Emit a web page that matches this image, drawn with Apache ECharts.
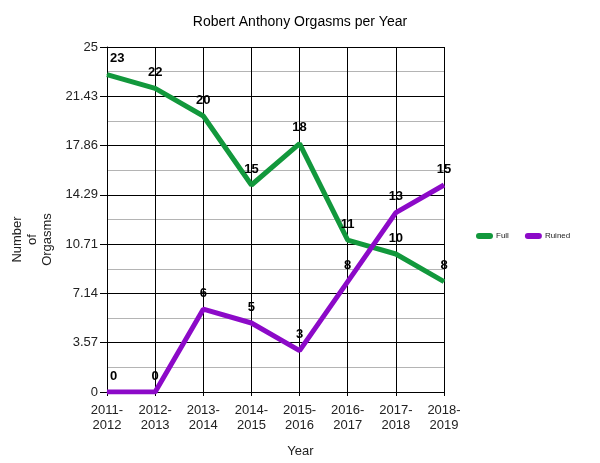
<!DOCTYPE html>
<html><head><meta charset="utf-8">
<script src="https://cdn.jsdelivr.net/npm/echarts@6/dist/echarts.min.js"></script>
<style>html,body{margin:0;padding:0;background:#fff}#c{width:600px;height:463px}</style>
</head><body><div id="c"></div>
<script>
const categories = ['2011-\n2012','2012-\n2013','2013-\n2014','2014-\n2015','2015-\n2016','2016-\n2017','2017-\n2018','2018-\n2019'];
const fullValues = [23, 22, 20, 15, 18, 11, 10, 8];
const ruinedValues = [0, 0, 6, 5, 3, 8, 13, 15];
const yMin = 0, yMax = 25, yStep = 25 / 7;

const FONT = 'Liberation Sans, Arial, sans-serif';
const green = '#12983c', purple = '#8c0ac8';

function withFirstLabel(vals) {
  return vals.map((v, i) => i === 0 ? {value: v, label: {align: 'left', offset: [3, 0]}} : v);
}
const pill = 'path://M3,0 H14 A3,3 0 0 1 14,6 H3 A3,3 0 0 1 3,0 Z';
const chart = echarts.init(document.getElementById('c'));
chart.setOption({
  animation: false,
  title: {text: 'Robert Anthony Orgasms per Year', left: 'center', top: 10,
    textStyle: {fontFamily: FONT, fontSize: 14, fontWeight: 'normal', color: '#000'}},
  legend: {left: 471, top: 227, itemWidth: 17, itemHeight: 6, itemGap: 16,
    textStyle: {fontFamily: FONT, fontSize: 8, color: '#222', padding: [0, 0, 0, -2]},
    data: [{name: 'Full', icon: pill}, {name: 'Ruined', icon: pill}]},
  grid: {left: 107, right: 156, top: 47, bottom: 71, containLabel: false, outerBoundsMode: 'none'},
  xAxis: {type: 'category', data: categories, boundaryGap: false,
    name: 'Year', nameLocation: 'middle', nameGap: 53,
    nameTextStyle: {fontFamily: FONT, fontSize: 13, color: '#222', padding: [0, 0, 0, 50]},
    axisLine: {lineStyle: {color: '#000', width: 1}},
    axisTick: {show: true, length: 4, lineStyle: {color: '#000'}},
    axisLabel: {fontFamily: FONT, fontSize: 13, color: '#222', margin: 11, lineHeight: 15, interval: 0},
    splitLine: {show: true, lineStyle: {color: '#000', width: 1}}},
  yAxis: {type: 'value', min: yMin, max: yMax, interval: yStep,
    name: 'Number\nof\nOrgasms', nameLocation: 'middle', nameRotate: 90, nameGap: 52,
    nameTextStyle: {fontFamily: FONT, fontSize: 13, color: '#222', lineHeight: 15, padding: [0, 40, 0, 0]},
    axisLine: {show: true, lineStyle: {color: '#000', width: 1}},
    axisTick: {show: true, length: 7, lineStyle: {color: '#000'}},
    axisLabel: {fontFamily: FONT, fontSize: 13, color: '#222', margin: 9,
      formatter: v => String(+(+v).toFixed(2))},
    splitLine: {show: true, lineStyle: {color: '#000', width: 1}},
    minorTick: {show: false, splitNumber: 2},
    minorSplitLine: {show: true, lineStyle: {color: '#b4b4b4', width: 1}}},
  series: [
    {name: 'Full', type: 'line', data: withFirstLabel(fullValues), symbol: 'circle', symbolSize: 1,
      lineStyle: {color: green, width: 5}, itemStyle: {color: green},
      label: {show: true, position: 'top', distance: 9, fontFamily: FONT, fontSize: 13, fontWeight: 'bold', color: '#000'}},
    {name: 'Ruined', type: 'line', data: withFirstLabel(ruinedValues), symbol: 'circle', symbolSize: 1,
      lineStyle: {color: purple, width: 5}, itemStyle: {color: purple},
      label: {show: true, position: 'top', distance: 9, fontFamily: FONT, fontSize: 13, fontWeight: 'bold', color: '#000'}}
  ]
});
</script></body></html>
